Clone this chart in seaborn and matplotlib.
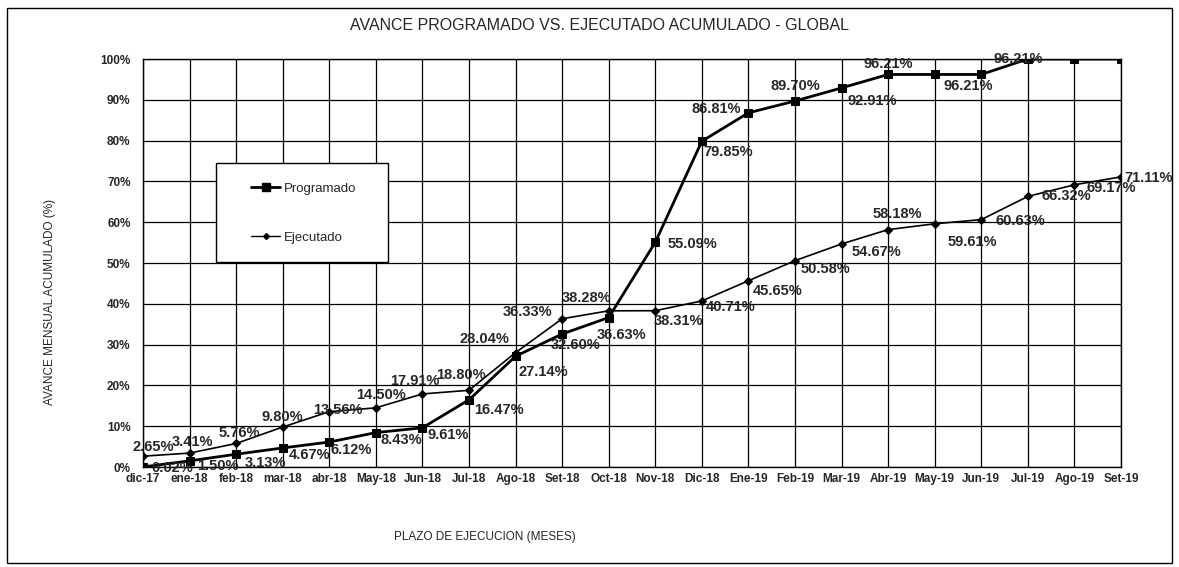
import pandas as pd
import seaborn as sns
import matplotlib.pyplot as plt
from matplotlib.patches import Rectangle
from matplotlib.lines import Line2D

# datos
meses = ['dic-17', 'ene-18', 'feb-18', 'mar-18', 'abr-18', 'May-18', 'Jun-18',
         'Jul-18', 'Ago-18', 'Set-18', 'Oct-18', 'Nov-18', 'Dic-18', 'Ene-19',
         'Feb-19', 'Mar-19', 'Abr-19', 'May-19', 'Jun-19', 'Jul-19', 'Ago-19', 'Set-19']
programado = [0.02, 1.50, 3.13, 4.67, 6.12, 8.43, 9.61, 16.47, 27.14, 32.60, 36.63,
              55.09, 79.85, 86.81, 89.70, 92.91, 96.21, 96.21, 96.21, 100, 100, 100]
ejecutado = [2.65, 3.41, 5.76, 9.80, 13.56, 14.50, 17.91, 18.80, 28.04, 36.33, 38.28,
             38.31, 40.71, 45.65, 50.58, 54.67, 58.18, 59.61, 60.63, 66.32, 69.17, 71.11]
# etiquetas tal como aparecen (algunas faltan o no coinciden con el punto)
etiq_prog = ['0.02%', '1.50%', '3.13%', '4.67%', '6.12%', '8.43%', '9.61%', '16.47%',
             '27.14%', '32.60%', '36.63%', '55.09%', '79.85%', '86.81%', '89.70%',
             '92.91%', '96.21%', None, '96.21%', '96.21%', None, None]
etiq_ejec = [f'{v:.2f}%' for v in ejecutado]

# desplazamientos de las etiquetas (pixeles)
off_prog = [(29, -1), (28, -5), (29, -9), (27, -7), (22, -8), (25, -7), (26, -7),
            (30, -10), (28, -16), (13, -11), (13, -17), (37, -2), (26, -11), (-32, 4),
            (0, 15), (31, -13), (0, 10), None, (-13, -12), (-10, 0), None, None]
off_ejec = [(10, 9), (3, 11), (3, 10), (0, 10), (9, 2), (5, 13), (-8, 13), (-8, 15),
            (-31, 14), (-35, 7), (-22, 13), (23, -10), (29, -6), (29, -10), (30, -8),
            (35, -8), (9, 16), (38, -18), (39, -1), (38, 0), (37, -3), (28, -1)]

df = pd.DataFrame({'idx': range(len(meses)), 'Programado': programado,
                   'Ejecutado': ejecutado})

sns.set_style('white')
plt.rcParams['font.family'] = ['Liberation Sans', 'DejaVu Sans']

W, H = 1179, 567
fig = plt.figure(figsize=(W / 100, H / 100), dpi=100)
ax = fig.add_axes([143 / W, 100 / H, 978 / W, 408 / H])

sns.lineplot(data=df, x='idx', y='Programado', ax=ax, color='black', linewidth=2,
             marker='s', markersize=6, markeredgecolor='black', zorder=3)
sns.lineplot(data=df, x='idx', y='Ejecutado', ax=ax, color='black', linewidth=1.2,
             marker='D', markersize=4, markeredgecolor='black', zorder=3)

# grilla negra
ax.grid(True, color='black', linewidth=0.9)
ax.set_axisbelow(True)
for s in ax.spines.values():
    s.set_color('black')
    s.set_linewidth(1)

ax.set_xlim(0, len(meses) - 1)
ax.set_ylim(0, 100)
ax.set_xticks(range(len(meses)))
ax.set_xticklabels(meses, fontsize=8.5, fontweight='bold')
yt = list(range(0, 101, 10))
ax.set_yticks(yt)
ax.set_yticklabels([f'{v}%' for v in yt], fontsize=8.5, fontweight='bold')
ax.tick_params(axis='x', length=0, pad=4)
ax.tick_params(axis='y', length=0, pad=9)
ax.set_xlabel('')
ax.set_ylabel('')

# etiquetas de datos
for i in range(len(meses)):
    if etiq_prog[i] is not None:
        ax.annotate(etiq_prog[i], (i, programado[i]), xytext=off_prog[i],
                    textcoords='offset pixels', ha='center', va='center',
                    fontsize=10.5, fontweight='bold', zorder=4)
    ax.annotate(etiq_ejec[i], (i, ejecutado[i]), xytext=off_ejec[i],
                textcoords='offset pixels', ha='center', va='center',
                fontsize=10.5, fontweight='bold', zorder=4)

# cuadro de leyenda
fig.add_artist(Rectangle((216 / W, 1 - 262 / H), 172 / W, 99 / H, transform=fig.transFigure,
                         facecolor='white', edgecolor='black', linewidth=1, zorder=5))
handles = [Line2D([], [], color='black', linewidth=2, marker='s', markersize=6),
           Line2D([], [], color='black', linewidth=1, marker='D', markersize=3)]
leg = fig.legend(handles, ['Programado', 'Ejecutado'], loc='center',
                 bbox_to_anchor=(304 / W, 1 - 213 / H), frameon=False, fontsize=9.5,
                 labelspacing=2.8, handlelength=2.2, handletextpad=0.3)
leg.set_zorder(6)

# textos
fig.text(600 / W, 1 - 25 / H, 'AVANCE PROGRAMADO VS. EJECUTADO ACUMULADO - GLOBAL',
         ha='center', va='center', fontsize=11.5)
fig.text(50 / W, 1 - 302 / H, 'AVANCE MENSUAL ACUMULADO (%)', rotation=90,
         ha='center', va='center', fontsize=8.5)
fig.text(485 / W, 1 - 537 / H, 'PLAZO DE EJECUCION (MESES)', ha='center', va='center',
         fontsize=8.5)

# marco exterior
fig.add_artist(Rectangle((7 / W, 4 / H), 1165 / W, 555 / H, transform=fig.transFigure,
                         fill=False, edgecolor='black', linewidth=1))

fig.savefig('out.png', dpi=100)
